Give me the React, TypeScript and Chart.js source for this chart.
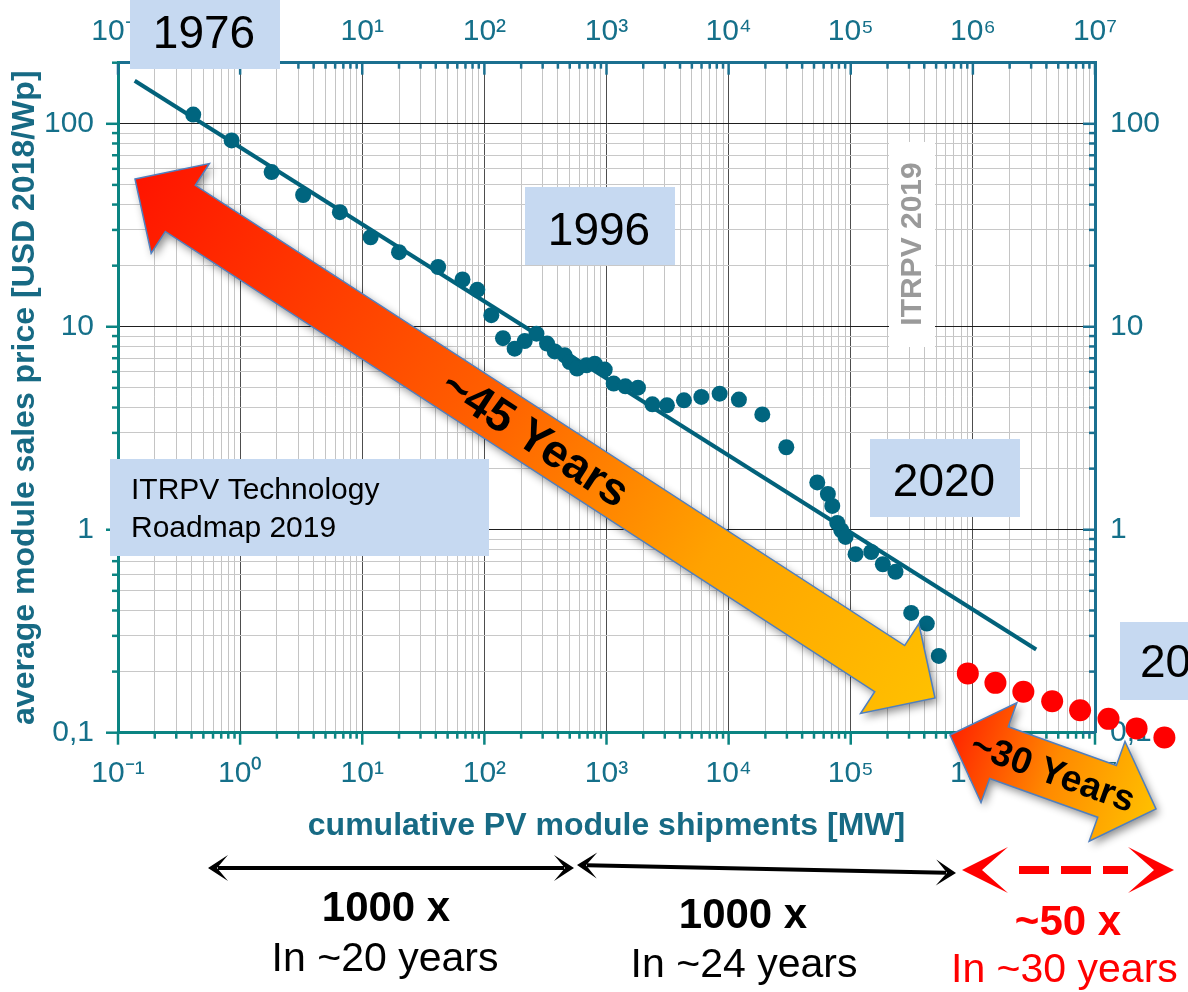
import React, { useEffect, useRef } from 'react';
import { Chart, registerables } from 'chart.js';

Chart.register(...registerables);

// ---------- data ----------
const historicalShipmentsMW = [
  0.413, 0.852, 1.81, 3.28, 6.56, 11.7, 20.0, 41.8, 66.2, 87.5,
  114, 142, 177, 214, 267, 326, 377, 455, 500, 574,
  685, 801, 967, 1145, 1428, 1810, 2375, 3127, 4307, 5977,
  8440, 12140, 18870, 29670, 53200, 64950, 70580, 77540, 83620, 90660,
  109500, 147200, 183100, 232600, 312600, 419600, 526000,
];
const historicalPriceUSD = [
  111, 82.8, 57.8, 44.6, 36.7, 27.6, 23.3, 19.7, 17.1, 15.2,
  11.4, 8.79, 7.8, 8.5, 9.25, 8.26, 7.56, 7.23, 6.7, 6.22,
  6.46, 6.58, 6.15, 5.25, 5.09, 5.01, 4.15, 4.1, 4.34, 4.51,
  4.68, 4.38, 3.7, 2.55, 1.71, 1.5, 1.31, 1.08, 0.994, 0.922,
  0.758, 0.777, 0.676, 0.62, 0.389, 0.345, 0.239,
];
const projectionShipmentsMW = [9.09e5, 1.53e6, 2.59e6, 4.46e6, 7.55e6, 1.29e7, 2.19e7, 3.7e7];
const projectionPriceUSD = [0.196, 0.176, 0.159, 0.143, 0.129, 0.117, 0.105, 0.0948];
const fitShipmentsMW = [0.137, 3.3e6];
const fitPriceUSD = [163, 0.257];

const xDecades = [0.1, 1, 10, 100, 1e3, 1e4, 1e5, 1e6, 1e7];
const xDecadeLabels = ['10⁻¹', '10⁰', '10¹', '10²', '10³', '10⁴', '10⁵', '10⁶', '10⁷'];
const yDecades = [0.1, 1, 10, 100];
const yDecadeLabels = ['0,1', '1', '10', '100'];

const X_MIN = 0.1;
const X_MAX = 1e7;
const Y_MIN = 0.1;
const Y_MAX = 200;

// ---------- styles ----------
const FONT = "'Liberation Sans', Arial, Helvetica, sans-serif";
const AXIS_A = '#0b8482';
const AXIS_B = '#1b7090';
const LABEL_COLOR = '#15708a';
const TITLE_COLOR = '#176a84';
const DOT_BLUE = '#00657f';
const BOX_BLUE = '#c6d9f1';

function logTicks(min: number, max: number) {
  const out: number[] = [];
  const e0 = Math.floor(Math.log10(min));
  const e1 = Math.ceil(Math.log10(max));
  for (let e = e0; e <= e1; e++) {
    for (let m = 1; m <= 9; m++) {
      const v = parseFloat((m * Math.pow(10, e)).toPrecision(10));
      if (v >= min * (1 - 1e-9) && v <= max * (1 + 1e-9)) out.push(v);
    }
  }
  return out;
}
const isDecade = (v: number) => Math.abs(Math.log10(v) - Math.round(Math.log10(v))) < 1e-6;
const labelFor = (v: number, decs: number[], labels: string[]) => {
  const i = decs.findIndex((d) => Math.abs(d - v) / d < 1e-6);
  return i >= 0 ? labels[i] : '';
};

// ---------- annotation helpers ----------
function blockArrow(
  ctx: CanvasRenderingContext2D,
  x1: number, y1: number, x2: number, y2: number,
  shaftW: number, headW: number, headL: number,
  stops: [number, string][], text: string, font: string
) {
  const L = Math.hypot(x2 - x1, y2 - y1);
  const ang = Math.atan2(y2 - y1, x2 - x1);
  ctx.save();
  ctx.translate(x1, y1);
  ctx.rotate(ang);
  const pts = [
    [0, 0], [headL, -headW / 2], [headL, -shaftW / 2], [L - headL, -shaftW / 2],
    [L - headL, -headW / 2], [L, 0], [L - headL, headW / 2], [L - headL, shaftW / 2],
    [headL, shaftW / 2], [headL, headW / 2],
  ];
  ctx.beginPath();
  pts.forEach(([x, y], i) => (i ? ctx.lineTo(x, y) : ctx.moveTo(x, y)));
  ctx.closePath();
  const g = ctx.createLinearGradient(0, 0, L, 0);
  stops.forEach(([o, c]) => g.addColorStop(o, c));
  ctx.save();
  ctx.shadowColor = 'rgba(0,0,0,0.45)';
  ctx.shadowBlur = 8;
  ctx.shadowOffsetX = 3;
  ctx.shadowOffsetY = 4;
  ctx.fillStyle = g;
  ctx.fill();
  ctx.restore();
  ctx.strokeStyle = '#4f7fbf';
  ctx.lineWidth = 1.5;
  ctx.stroke();
  ctx.fillStyle = '#000';
  ctx.font = font;
  ctx.textAlign = 'center';
  ctx.textBaseline = 'middle';
  ctx.fillText(text, L / 2, 2);
  ctx.restore();
}

function arrowHead(ctx: CanvasRenderingContext2D, tx: number, ty: number, ang: number,
  headL: number, half: number, notch: number, color: string) {
  ctx.save();
  ctx.translate(tx, ty);
  ctx.rotate(ang);
  ctx.beginPath();
  ctx.moveTo(0, 0);
  ctx.lineTo(-headL, -half);
  ctx.lineTo(-notch, 0);
  ctx.lineTo(-headL, half);
  ctx.closePath();
  ctx.fillStyle = color;
  ctx.fill();
  ctx.restore();
}

function lineArrow(ctx: CanvasRenderingContext2D, x1: number, y1: number, x2: number, y2: number,
  color: string, width: number, headL: number, half: number, notch: number,
  dash?: number[], inset = 0) {
  const ang = Math.atan2(y2 - y1, x2 - x1);
  const ux = Math.cos(ang);
  const uy = Math.sin(ang);
  ctx.save();
  ctx.strokeStyle = color;
  ctx.lineWidth = width;
  if (dash) ctx.setLineDash(dash);
  const s = inset || notch + 1;
  const e = inset ? headL : notch + 1;
  ctx.beginPath();
  ctx.moveTo(x1 + ux * s, y1 + uy * s);
  ctx.lineTo(x2 - ux * e, y2 - uy * e);
  ctx.stroke();
  ctx.restore();
  arrowHead(ctx, x1, y1, ang + Math.PI, headL, half, notch, color);
  arrowHead(ctx, x2, y2, ang, headL, half, notch, color);
}

function text(ctx: CanvasRenderingContext2D, s: string, x: number, y: number, font: string,
  color: string, align: CanvasTextAlign = 'center') {
  ctx.save();
  ctx.font = font;
  ctx.fillStyle = color;
  ctx.textAlign = align;
  ctx.textBaseline = 'alphabetic';
  ctx.fillText(s, x, y);
  ctx.restore();
}

function drawAxisTicks(chart: any) {
  const ctx: CanvasRenderingContext2D = chart.ctx;
  const a = chart.chartArea;
  const specs = [
    { id: 'x', color: AXIS_A },
    { id: 'x2', color: AXIS_B },
    { id: 'y', color: AXIS_A },
    { id: 'y2', color: AXIS_B },
  ];
  ctx.save();
  ctx.lineWidth = 2.5;
  specs.forEach(({ id, color }) => {
    const sc = chart.scales[id];
    if (!sc) return;
    ctx.strokeStyle = color;
    sc.ticks.forEach((t: any) => {
      const p = sc.getPixelForValue(t.value);
      const len = isDecade(t.value) ? 12 : 6;
      ctx.beginPath();
      if (id === 'x' || id === 'x2') {
        const edge = id === 'x' ? a.bottom : a.top;
        ctx.moveTo(p, edge);
        ctx.lineTo(p, edge + len);
      } else {
        const edge = id === 'y' ? a.left : a.right;
        ctx.moveTo(edge, p);
        ctx.lineTo(edge - len, p);
      }
      ctx.stroke();
    });
  });
  ctx.restore();
}

// Chart.js skips point elements that lie outside the chart area; the
// projection continues past the x maximum, so draw those elements too.
function drawOverflowPoints(chart: any) {
  const a = chart.chartArea;
  chart.data.datasets.forEach((ds: any, i: number) => {
    if (ds.clip !== false) return;
    const meta = chart.getDatasetMeta(i);
    meta.data.forEach((el: any) => {
      const m = (el.options && el.options.radius) || 0;
      const inside = el.x > a.left - m && el.x < a.right + m && el.y > a.top - m && el.y < a.bottom + m;
      if (!inside) el.draw(chart.ctx);
    });
  });
}

function drawAnnotations(ctx: CanvasRenderingContext2D) {
  // vertical watermark
  ctx.save();
  ctx.fillStyle = '#ffffff';
  ctx.fillRect(889, 142, 46, 205);
  ctx.translate(913, 244);
  ctx.rotate(-Math.PI / 2);
  ctx.font = `bold 30px ${FONT}`;
  ctx.fillStyle = '#9a9a9a';
  ctx.textAlign = 'center';
  ctx.textBaseline = 'middle';
  ctx.fillText('ITRPV 2019', 0, 0);
  ctx.restore();

  // year boxes
  const years = [
    { s: '1976', x: 130, y: 0, w: 150, h: 69, tx: 204, ty: 48, align: 'center' },
    { s: '1996', x: 525, y: 187, w: 150, h: 78, tx: 599, ty: 245, align: 'center' },
    { s: '2020', x: 870, y: 439, w: 150, h: 78, tx: 944, ty: 496, align: 'center' },
    { s: '2050', x: 1120, y: 622, w: 80, h: 78, tx: 1140, ty: 677, align: 'left' },
  ];
  years.forEach((b) => {
    ctx.fillStyle = BOX_BLUE;
    ctx.fillRect(b.x, b.y, b.w, b.h);
    text(ctx, b.s, b.tx, b.ty, `46px ${FONT}`, '#000', b.align as CanvasTextAlign);
  });

  // roadmap box
  ctx.fillStyle = BOX_BLUE;
  ctx.fillRect(110, 459, 379, 97);
  text(ctx, 'ITRPV Technology', 131, 499, `30px ${FONT}`, '#000', 'left');
  text(ctx, 'Roadmap 2019', 131, 537, `30px ${FONT}`, '#000', 'left');

  // big arrows
  blockArrow(ctx, 135, 179, 935, 698, 55, 107, 54,
    [[0, '#ff1400'], [0.45, '#ff6200'], [0.72, '#ffa200'], [1, '#ffc000']],
    '~45 Years', `bold 46px ${FONT}`);
  blockArrow(ctx, 950, 735, 1156, 809, 55, 106, 52,
    [[0, '#ff2400'], [0.5, '#ff8a00'], [1, '#ffc000']],
    '~30 Years', `bold 37px ${FONT}`);

  // bottom range arrows
  lineArrow(ctx, 208, 868, 574, 868, '#000', 4, 20, 13, 9);
  lineArrow(ctx, 577, 865, 956, 873, '#000', 4, 20, 13, 9);
  lineArrow(ctx, 962, 870, 1174, 870, '#ff0000', 8, 46, 23, 20, [30, 12], 57);

  text(ctx, '1000 x', 386, 921, `bold 42px ${FONT}`, '#000');
  text(ctx, 'In ~20 years', 385, 971, `41px ${FONT}`, '#000');
  text(ctx, '1000 x', 743, 928, `bold 42px ${FONT}`, '#000');
  text(ctx, 'In ~24 years', 744, 977, `41px ${FONT}`, '#000');
  text(ctx, '~50 x', 1068, 935, `bold 42px ${FONT}`, '#ff0000');
  text(ctx, 'In ~30 years', 951, 982, `41px ${FONT}`, '#ff0000', 'left');
}

const annotationPlugin = {
  id: 'pvAnnotations',
  beforeDatasetsDraw(chart: any) {
    drawAxisTicks(chart);
  },
  afterDatasetsDraw(chart: any) {
    drawOverflowPoints(chart);
  },
  afterDraw(chart: any) {
    drawAnnotations(chart.ctx);
  },
};

function xAxis(position: 'bottom' | 'top') {
  const bottom = position === 'bottom';
  return {
    type: 'logarithmic',
    position,
    min: X_MIN,
    max: X_MAX,
    afterBuildTicks: (s: any) => {
      s.ticks = logTicks(X_MIN, X_MAX).map((v) => ({ value: v }));
    },
    afterFit: (s: any) => {
      s.height = bottom ? 117.3 : 62.7;
    },
    grid: {
      display: true,
      drawOnChartArea: bottom,
      drawTicks: false,
      lineWidth: 1,
      color: (c: any) => (c.tick && isDecade(c.tick.value) ? '#4d4d4d' : '#c4c4c4'),
    },
    border: { display: true, color: bottom ? AXIS_A : AXIS_B, width: 3 },
    ticks: {
      autoSkip: false,
      maxRotation: 0,
      minRotation: 0,
      padding: bottom ? 23 : 13,
      color: LABEL_COLOR,
      font: { family: FONT, size: 30 },
      callback: (v: any) => labelFor(Number(v), xDecades, xDecadeLabels),
    },
    title: bottom
      ? {
          display: true,
          text: 'cumulative PV module shipments [MW]',
          color: TITLE_COLOR,
          font: { family: FONT, size: 32, weight: 'bold' },
          padding: { top: 0, bottom: 5 },
        }
      : { display: false },
  };
}

function yAxis(position: 'left' | 'right') {
  const left = position === 'left';
  return {
    type: 'logarithmic',
    position,
    min: Y_MIN,
    max: Y_MAX,
    afterBuildTicks: (s: any) => {
      s.ticks = logTicks(Y_MIN, Y_MAX).map((v) => ({ value: v }));
    },
    afterFit: (s: any) => {
      s.width = left ? 118 : 93;
    },
    grid: {
      display: true,
      drawOnChartArea: left,
      drawTicks: false,
      lineWidth: 1,
      color: (c: any) => (c.tick && isDecade(c.tick.value) ? '#1e1e1e' : '#c8c8c8'),
    },
    border: { display: true, color: left ? AXIS_A : AXIS_B, width: 3 },
    ticks: {
      autoSkip: false,
      padding: left ? 24 : 15,
      color: LABEL_COLOR,
      font: { family: FONT, size: 30 },
      callback: (v: any) => labelFor(Number(v), yDecades, yDecadeLabels),
    },
    title: left
      ? {
          display: true,
          text: 'average module sales price [USD 2018/Wp]',
          color: TITLE_COLOR,
          font: { family: FONT, size: 32, weight: 'bold' },
          padding: { top: 6, bottom: 0 },
        }
      : { display: false },
  };
}

export default function App() {
  const ref = useRef<HTMLCanvasElement>(null);

  useEffect(() => {
    if (!ref.current) return;
    const chart = new Chart(ref.current, {
      type: 'scatter',
      data: {
        datasets: [
          {
            label: 'ITRPV projection',
            data: projectionShipmentsMW.map((x, i) => ({ x, y: projectionPriceUSD[i] })),
            pointRadius: 11,
            backgroundColor: '#ff0000',
            borderWidth: 0,
            showLine: false,
            clip: false,
          },
          {
            label: 'Historical average module price',
            data: historicalShipmentsMW.map((x, i) => ({ x, y: historicalPriceUSD[i] })),
            pointRadius: 8,
            backgroundColor: DOT_BLUE,
            borderWidth: 0,
            showLine: false,
          },
          {
            label: 'Learning curve',
            data: fitShipmentsMW.map((x, i) => ({ x, y: fitPriceUSD[i] })),
            showLine: true,
            borderColor: '#02627b',
            borderWidth: 4,
            pointRadius: 0,
          },
        ],
      } as any,
      options: {
        responsive: false,
        maintainAspectRatio: false,
        devicePixelRatio: 1,
        animation: false,
        layout: { padding: { left: 0, right: 0, top: 0, bottom: 142 } },
        plugins: { legend: { display: false }, tooltip: { enabled: false } },
        scales: {
          x: xAxis('bottom'),
          x2: xAxis('top'),
          y: yAxis('left'),
          y2: yAxis('right'),
        } as any,
      },
      plugins: [annotationPlugin],
    });
    return () => chart.destroy();
  }, []);

  return (
    <div style={{ position: 'fixed', left: 0, top: 0, width: 1188, height: 992, background: '#ffffff' }}>
      <canvas ref={ref} width={1188} height={992} style={{ display: 'block' }} />
    </div>
  );
}
